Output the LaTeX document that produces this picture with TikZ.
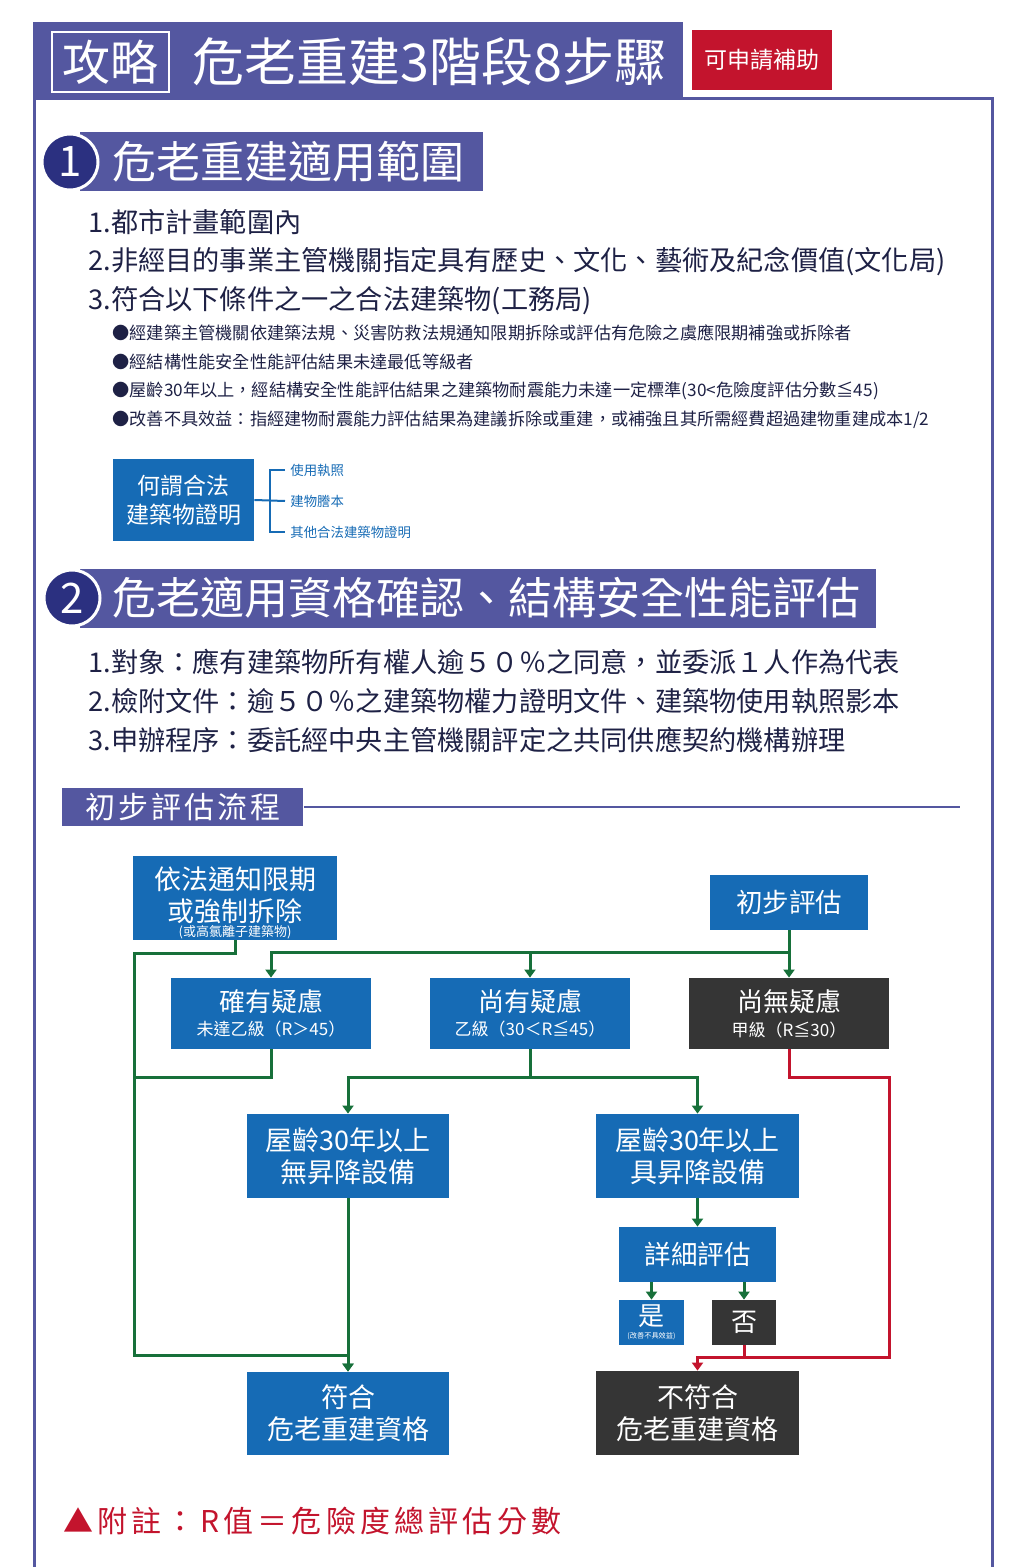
\documentclass[tikz,border=0pt]{standalone}
\usepackage{fontspec}
\setmainfont{Noto Sans CJK TC}
\usepackage{xcolor}
\usetikzlibrary{positioning, calc, arrows.meta, shapes}
\definecolor{bannerpurple}{HTML}{5457A0}
\definecolor{discnavy}{HTML}{2B3080}
\definecolor{boxblue}{HTML}{166BB5}
\definecolor{boxdark}{HTML}{353535}
\definecolor{flowgreen}{HTML}{17703A}
\definecolor{alertred}{HTML}{C3142D}
\definecolor{bodytext}{HTML}{1E2145}
\newcommand{\fsz}[2]{\fontsize{#1}{#2}\selectfont}
\tikzstyle{bluebox} = [rectangle, fill=boxblue, text=white, align=center, inner sep=0pt]
\tikzstyle{darkbox} = [rectangle, fill=boxdark, text=white, align=center, inner sep=0pt]
\tikzstyle{gline} = [draw=flowgreen, line width=1.5pt, -{Triangle[length=4pt,width=5.5pt]}]
\tikzstyle{gplain} = [draw=flowgreen, line width=1.5pt]
\tikzstyle{rline} = [draw=alertred, line width=1.5pt, -{Triangle[length=4pt,width=5.5pt]}]
\tikzstyle{rplain} = [draw=alertred, line width=1.5pt]
\tikzstyle{secbar} = [rectangle, fill=bannerpurple, text=white, inner sep=0pt, minimum height=29.5pt, anchor=west, font=\fsz{22}{26}]
\tikzstyle{numdisc} = [circle, fill=discnavy, draw=white, line width=1.5pt, text=white, minimum size=28pt, inner sep=0pt, font=\fsz{21}{24}]
\tikzstyle{bodyline} = [anchor=west, inner sep=0pt, text=bodytext, font=\fsz{13.6}{16}]
\tikzstyle{bulletline} = [anchor=west, inner sep=0pt, text=bodytext, font=\fsz{8.6}{10}]
\tikzstyle{docline} = [anchor=west, inner xsep=2.5pt, inner ysep=0pt, text=boxblue, font=\fsz{6.7}{8}]

\begin{document}
\begin{tikzpicture}[x=0.5pt, y=-0.5pt]
  \useasboundingbox (0,0) rectangle (1024,1567);
  %%% Frame and title:
  \draw[bannerpurple, line width=1.5pt] (34.5,1567) -- (34.5,99) -- (992.5,99) -- (992.5,1567);
  \node[fill=bannerpurple, minimum width=325pt, minimum height=39pt, inner sep=0pt, anchor=north west] (banner) at (33,22) {};
  \node[draw=white, line width=0.8pt, text=white, minimum width=58.5pt, minimum height=30pt, inner sep=0pt, font=\fsz{24}{28}] (guide) at (110.5,62) {攻略};
  \node[anchor=west, text=white, inner sep=0pt, font=\fsz{26}{30}] (title) at (192,62) {危老重建3階段8步驟};
  \node[fill=alertred, text=white, minimum width=70pt, minimum height=30pt, inner sep=0pt, font=\fsz{11.5}{14}] (subsidy) at (762,60) {可申請補助};
  %%% Stage 1:
  \node[secbar] (sec1) at (80,162) {\kern16pt 危老重建適用範圍\kern9.5pt};
  \node[numdisc] (disc1) at (70,162) {1};
  \node[bodyline] (r1) at (88,222) {1.都市計畫範圍內};
  \node[bodyline] (r2) at (88,262) {2.非經目的事業主管機關指定具有歷史、文化、藝術及紀念價值(文化局)};
  \node[bodyline] (r3) at (88,301) {3.符合以下條件之一之合法建築物(工務局)};
  \node[bulletline] (b1) at (112,333) {●經建築主管機關依建築法規、災害防救法規通知限期拆除或評估有危險之虞應限期補強或拆除者};
  \node[bulletline] (b2) at (112,362) {●經結構性能安全性能評估結果未達最低等級者};
  \node[bulletline] (b3) at (112,391) {●屋齡30年以上，經結構安全性能評估結果之建築物耐震能力未達一定標準(30<危險度評估分數≦45)};
  \node[bulletline] (b4) at (112,420) {●改善不具效益：指經建物耐震能力評估結果為建議拆除或重建，或補強且其所需經費超過建物重建成本1/2};
  \node[bluebox, minimum width=70.5pt, minimum height=41pt, font=\fsz{11.5}{14.5}] (legal) at (183.5,500) {何謂合法\\建築物證明};
  \node[docline] (doc1) at (285,470) {使用執照};
  \node[docline] (doc2) at (285,501) {建物謄本};
  \node[docline] (doc3) at (285,532) {其他合法建築物證明};
  \coordinate (brace) at (270,501);
  \draw[boxblue, line width=1pt] (legal.east) -- (doc2.west);
  \draw[boxblue, line width=1pt] (doc1.west) -| (brace) |- (doc3.west);
  %%% Stage 2:
  \node[secbar] (sec2) at (80,598) {\kern16pt 危老適用資格確認、結構安全性能評估\kern8pt};
  \node[numdisc] (disc2) at (72,598) {2};
  \node[bodyline] (s1) at (88,662) {1.對象：應有建築物所有權人逾５０％之同意，並委派１人作為代表};
  \node[bodyline] (s2) at (88,701) {2.檢附文件：逾５０％之建築物權力證明文件、建築物使用執照影本};
  \node[bodyline] (s3) at (88,740) {3.申辦程序：委託經中央主管機關評定之共同供應契約機構辦理};
  \node[fill=bannerpurple, text=white, minimum width=120.5pt, minimum height=19pt, inner sep=0pt, anchor=west, font=\fsz{15}{18}\addfontfeatures{LetterSpace=10}] (flowbar) at (62,807) {初步評估流程};
  \coordinate (ruleend) at (960,807);
  \draw[bannerpurple, line width=1pt] (flowbar.east) -- (ruleend);
  %%% Flow chart:
  \node[bluebox, minimum width=102pt, minimum height=42pt, font=\fsz{13.5}{16}] (notice) at (235,898) {\rule{0pt}{15.9pt}依法通知限期\\或強制拆除\\[-8.6pt]{\fsz{6.5}{7}(或高氯離子建築物)}};
  \node[bluebox, minimum width=79pt, minimum height=27.5pt, font=\fsz{13.25}{16}] (initial) at (789,902.5) {初步評估};
  \node[bluebox, minimum width=100pt, minimum height=35.5pt, font=\fsz{13}{12.3}] (doubt) at (271,1013.5) {確有疑慮\\{\fsz{8.5}{10}未達乙級（R＞45）}};
  \node[bluebox, minimum width=100pt, minimum height=35.5pt, font=\fsz{13}{12.3}] (somedoubt) at (530,1013.5) {尚有疑慮\\{\fsz{8.5}{10}乙級（30＜R≦45）}};
  \node[darkbox, minimum width=100pt, minimum height=35.5pt, font=\fsz{13}{12.3}] (nodoubt) at (789,1013.5) {尚無疑慮\\{\fsz{8.5}{10}甲級（R≦30）}};
  \node[bluebox, minimum width=101pt, minimum height=42pt, font=\fsz{13.5}{16}] (nolift) at (348,1156) {屋齡30年以上\\無昇降設備};
  \node[bluebox, minimum width=101.5pt, minimum height=42pt, font=\fsz{13.5}{16}] (lift) at (697.5,1156) {屋齡30年以上\\具昇降設備};
  \node[bluebox, minimum width=78.5pt, minimum height=27.5pt, font=\fsz{13.25}{16}] (detail) at (697.5,1254.5) {詳細評估};
  \node[bluebox, minimum width=32.5pt, minimum height=22.5pt, font=\fsz{13}{6.35}] (yes) at (651.5,1322.5) {是\\{\fsz{3.6}{4}(改善不具效益)}};
  \node[darkbox, minimum width=32pt, minimum height=22.5pt, font=\fsz{13}{16}] (no) at (744,1322.5) {否};
  \node[bluebox, minimum width=101pt, minimum height=41.5pt, font=\fsz{13.5}{16}] (eligible) at (348,1413.5) {符合\\危老重建資格};
  \node[darkbox, minimum width=101.5pt, minimum height=42pt, font=\fsz{13.5}{16}] (ineligible) at (697.5,1413) {不符合\\危老重建資格};
  \coordinate (split) at (789,952);
  \coordinate (railtop) at (134,953);
  \coordinate (railmid) at (134,1077);
  \coordinate (railbot) at (134,1355);
  \coordinate (fork) at (530,1077);
  \coordinate (redtop) at (889,1077);
  \coordinate (redbot) at (889,1357);
  \path[gline] (initial.south) -- (nodoubt.north);
  \path[gline] (split) -| (doubt.north);
  \path[gline] (split -| somedoubt.north) -- (somedoubt.north);
  \path[gline] (notice.south) |- (railtop) -- (railbot) -| (eligible.north);
  \path[gplain] (doubt.south) |- (railmid);
  \path[gplain] (somedoubt.south) -- (fork);
  \path[gline] (fork) -| (nolift.north);
  \path[gline] (fork) -| (lift.north);
  \path[gline] (nolift.south) -- (eligible.north);
  \path[gline] (lift.south) -- (detail.north);
  \path[gline] (detail.south -| yes.north) -- (yes.north);
  \path[gline] (detail.south -| no.north) -- (no.north);
  \path[rline] (nodoubt.south) |- (redtop) -- (redbot) -| (ineligible.north);
  \path[rplain] (no.south) -- (no.south |- redbot);
  %%% Note:
  \node[anchor=west, inner sep=0pt, text=alertred, font=\fsz{15}{18}\addfontfeatures{LetterSpace=14}] (footnote) at (63,1521) {▲附註：R值＝危險度總評估分數};
\end{tikzpicture}
\end{document}
